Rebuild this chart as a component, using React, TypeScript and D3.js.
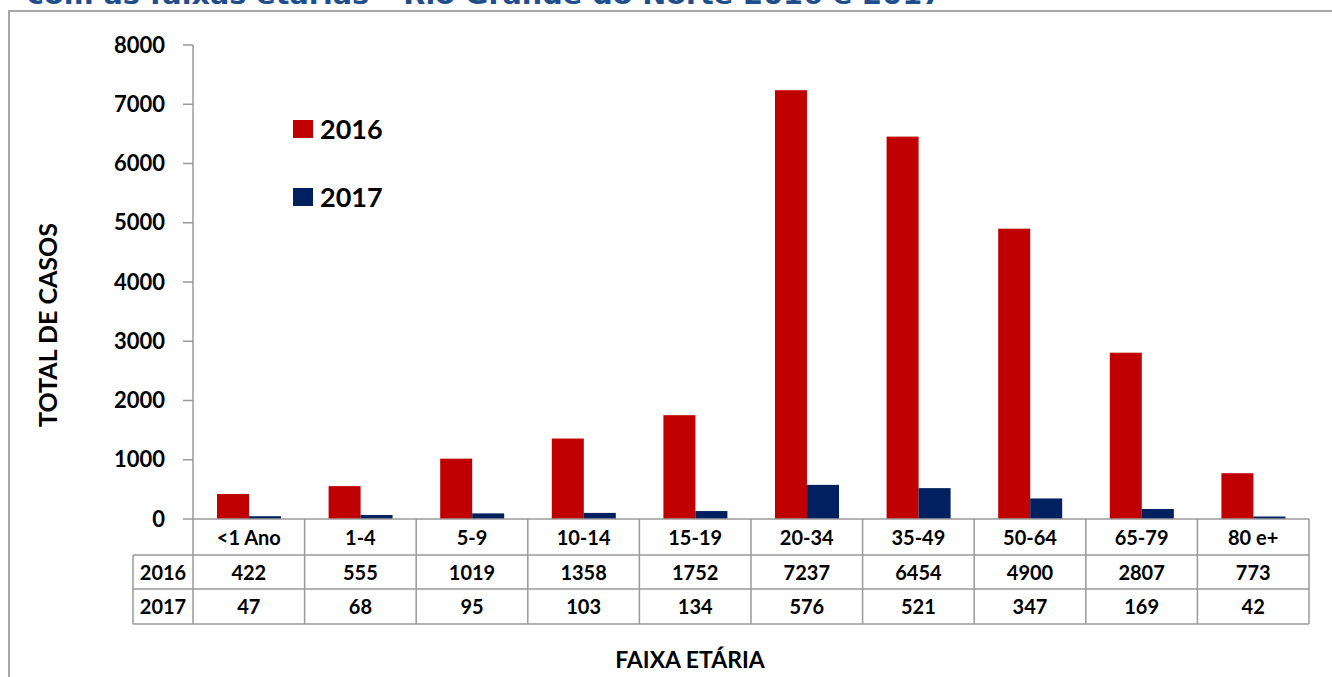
import { useEffect } from "react";
import * as d3 from "d3";

const categories = ["<1 Ano", "1-4", "5-9", "10-14", "15-19", "20-34", "35-49", "50-64", "65-79", "80 e+"];
const values2016 = [422, 555, 1019, 1358, 1752, 7237, 6454, 4900, 2807, 773];
const values2017 = [47, 68, 95, 103, 134, 576, 521, 347, 169, 42];
const seriesNames = ["2016", "2017"];
const yTicks = [0, 1000, 2000, 3000, 4000, 5000, 6000, 7000, 8000];

const colors = ["#C00000", "#002060"];
const width = 1332;
const height = 677;
const font = "Lato, 'Open Sans', sans-serif";

export default function App() {
    useEffect(() => {
        document.body.style.margin = "0";
    }, []);

    const left = 193;
    const right = 1309;
    const top = 45;
    const bottom = 519;
    const rowH = 35;

    const x = d3.scaleBand<string>().domain(categories).range([left, right]);
    const inner = d3.scaleBand<string>()
        .domain(seriesNames)
        .range([24, 24 + 64]);
    const y = d3.scaleLinear().domain([0, 8000]).range([bottom, top]);

    const series = [values2016, values2017];
    const rowTops = [bottom, bottom + 36, bottom + 70];
    const tableBottom = bottom + 105;
    const gridCol = "#9a9a9a";

    return (
        <svg width={width} height={height} style={{ display: "block" }}>
            <rect width={width} height={height} fill="white" />
            {/* title cut off at the top */}
            <text x={27} y={4} fill="#1F4E8C" fontFamily="'DejaVu Sans', Verdana, sans-serif"
                fontWeight="bold" fontSize={26} textLength={940} lengthAdjust="spacingAndGlyphs">
                com as faixas etárias – Rio Grande do Norte 2016 e 2017 *
            </text>
            {/* frame */}
            <path d={`M9,${height} V11 H${width}`} fill="none" stroke="#a8a8a8" strokeWidth={2} />

            {/* bars */}
            {series.map((vals, si) => (
                <g key={si}>
                    {vals.map((v, i) => (
                        <rect key={i}
                            x={(x(categories[i]) ?? 0) + (inner(seriesNames[si]) ?? 0)}
                            y={y(v)}
                            width={inner.bandwidth()}
                            height={bottom - y(v)}
                            fill={colors[si]} />
                    ))}
                </g>
            ))}

            {/* y axis */}
            <line x1={left} x2={left} y1={top} y2={tableBottom} stroke={gridCol} strokeWidth={1.5} />
            {yTicks.map(t => (
                <g key={t}>
                    <line x1={left - 10} x2={left} y1={y(t)} y2={y(t)} stroke={gridCol} strokeWidth={1.5} />
                    <text x={165} y={y(t)} dy="0.35em" textAnchor="end" fontFamily={font}
                        fontWeight="bold" fontSize={22} fill="#000">{t}</text>
                </g>
            ))}

            {/* data table */}
            <line x1={left} x2={right} y1={rowTops[0]} y2={rowTops[0]} stroke={gridCol} strokeWidth={1.5} />
            <line x1={133} x2={right} y1={rowTops[1]} y2={rowTops[1]} stroke={gridCol} strokeWidth={1.5} />
            <line x1={133} x2={right} y1={rowTops[2]} y2={rowTops[2]} stroke={gridCol} strokeWidth={1.5} />
            <line x1={133} x2={right} y1={tableBottom} y2={tableBottom} stroke={gridCol} strokeWidth={1.5} />
            <line x1={133} x2={133} y1={rowTops[1]} y2={tableBottom} stroke={gridCol} strokeWidth={1.5} />
            {categories.map(c => (
                <line key={c} x1={(x(c) ?? 0) + x.bandwidth()} x2={(x(c) ?? 0) + x.bandwidth()}
                    y1={rowTops[0]} y2={tableBottom} stroke={gridCol} strokeWidth={1.5} />
            ))}
            {categories.map(c => (
                <text key={c} x={(x(c) ?? 0) + x.bandwidth() / 2} y={rowTops[0] + rowH / 2 + 1} dy="0.35em"
                    textAnchor="middle" fontFamily={font} fontWeight="bold" fontSize={20} fill="#000">{c}</text>
            ))}
            {series.map((vals, si) => (
                <g key={si}>
                    <text x={163} y={rowTops[si + 1] + rowH / 2} dy="0.35em" textAnchor="middle"
                        fontFamily={font} fontWeight="bold" fontSize={20} fill="#000">{seriesNames[si]}</text>
                    {vals.map((v, i) => (
                        <text key={i} x={(x(categories[i]) ?? 0) + x.bandwidth() / 2} y={rowTops[si + 1] + rowH / 2}
                            dy="0.35em" textAnchor="middle" fontFamily={font} fontWeight="bold" fontSize={20}
                            fill="#000">{v}</text>
                    ))}
                </g>
            ))}

            {/* legend */}
            {seriesNames.map((s, i) => (
                <g key={s} transform={`translate(293, ${120 + i * 68})`}>
                    <rect width={20} height={18} fill={colors[i]} />
                    <text x={27} y={9} dy="0.36em" fontFamily={font} fontWeight="bold" fontSize={27}
                        fill="#000">{s}</text>
                </g>
            ))}

            {/* axis titles */}
            <text transform={`translate(57, 325) rotate(-90)`} textAnchor="middle" fontFamily={font}
                fontWeight="bold" fontSize={25} fill="#000">TOTAL DE CASOS</text>
            <text x={690} y={668} textAnchor="middle" fontFamily={font} fontWeight="bold" fontSize={23}
                fill="#000">FAIXA ETÁRIA</text>
        </svg>
    );
}
